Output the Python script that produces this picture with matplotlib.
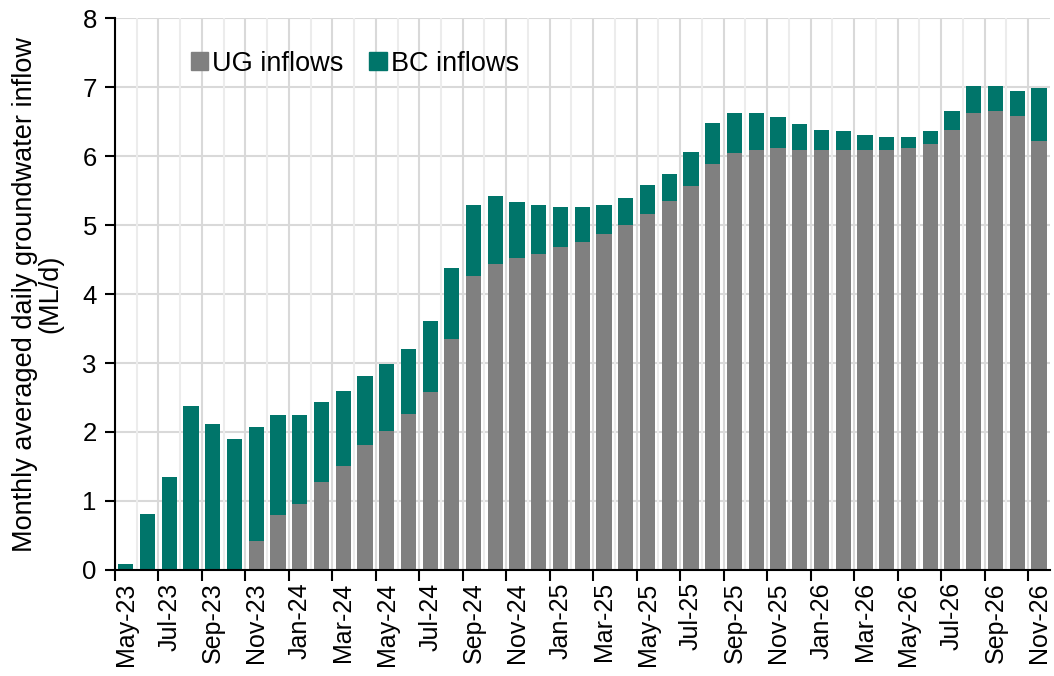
import numpy as np
import matplotlib
matplotlib.use("Agg")
import matplotlib.pyplot as plt
from matplotlib.patches import Patch

plt.rcParams["font.family"] = ["Liberation Sans", "DejaVu Sans"]

# === Data ===
months = ["May-23", "Jun-23", "Jul-23", "Aug-23", "Sep-23", "Oct-23", "Nov-23", "Dec-23",
          "Jan-24", "Feb-24", "Mar-24", "Apr-24", "May-24", "Jun-24", "Jul-24", "Aug-24",
          "Sep-24", "Oct-24", "Nov-24", "Dec-24", "Jan-25", "Feb-25", "Mar-25", "Apr-25",
          "May-25", "Jun-25", "Jul-25", "Aug-25", "Sep-25", "Oct-25", "Nov-25", "Dec-25",
          "Jan-26", "Feb-26", "Mar-26", "Apr-26", "May-26", "Jun-26", "Jul-26", "Aug-26",
          "Sep-26", "Oct-26", "Nov-26"]

ug_inflows = [0.0, 0.0, 0.0, 0.0, 0.0, 0.0, 0.42, 0.79, 0.95, 1.27, 1.51, 1.81, 2.02, 2.26,
              2.58, 3.35, 4.26, 4.44, 4.52, 4.58, 4.68, 4.76, 4.87, 5.00, 5.16, 5.35, 5.56,
              5.88, 6.04, 6.09, 6.12, 6.09, 6.09, 6.09, 6.09, 6.09, 6.12, 6.18, 6.38, 6.62,
              6.65, 6.58, 6.22]

total_inflows = [0.09, 0.81, 1.34, 2.38, 2.12, 1.90, 2.07, 2.25, 2.25, 2.43, 2.59, 2.81, 2.99,
                 3.21, 3.61, 4.38, 5.29, 5.42, 5.34, 5.29, 5.26, 5.26, 5.29, 5.39, 5.58, 5.74,
                 6.06, 6.48, 6.62, 6.62, 6.57, 6.46, 6.38, 6.36, 6.30, 6.28, 6.28, 6.36, 6.65,
                 7.02, 7.02, 6.94, 6.99]

ug = np.array(ug_inflows)
bc = np.array(total_inflows) - ug

UG_COLOR = "#808080"
BC_COLOR = "#00756A"

# === Figure ===
fig = plt.figure(figsize=(10.54, 6.76), dpi=100)
ax = fig.add_axes([0.109, 0.157, 0.887, 0.816])

x = np.arange(len(months))
ax.bar(x, ug, width=0.7, color=UG_COLOR, zorder=3)
ax.bar(x, bc, width=0.7, bottom=ug, color=BC_COLOR, zorder=3)

ax.set_xlim(-0.5, len(months) - 0.5)
ax.set_ylim(0, 8)
ax.set_yticks(range(0, 9))

# vertical grid at every category boundary, darker at labelled ones
for b in np.arange(len(months)) - 0.5:
    idx = int(b + 0.5)
    col = "#d9d9d9" if idx % 2 == 0 else "#ececec"
    ax.axvline(b, color=col, lw=1.5, zorder=1)
ax.yaxis.grid(True, color="#d9d9d9", lw=1.5, zorder=1)
ax.set_axisbelow(True)

# labels centred under every second bar, tick marks on boundaries
ax.set_xticks(x[::2])
ax.set_xticklabels(months[::2], rotation=90, fontsize=18)
ax.set_xticks(x[::2] - 0.5, minor=True)
ax.tick_params(axis="x", which="major", length=0, pad=9)
ax.tick_params(axis="x", which="minor", length=8, width=1.5, direction="out")
ax.tick_params(axis="y", labelsize=18.5, length=7, width=1.5, pad=6)

for s in ["top", "right"]:
    ax.spines[s].set_visible(False)
for s in ["left", "bottom"]:
    ax.spines[s].set_linewidth(1.5)
    ax.spines[s].set_zorder(4)

ax.set_ylabel("Monthly averaged daily groundwater inflow\n(ML/d)", fontsize=19.5,
              linespacing=0.95, labelpad=14)

handles = [Patch(color=UG_COLOR, label="UG inflows"), Patch(color=BC_COLOR, label="BC inflows")]
ax.legend(handles=handles, loc="upper left", bbox_to_anchor=(0.055, 0.985), ncol=2,
          frameon=False, fontsize=19.5, handlelength=0.65, handleheight=0.65,
          handletextpad=0.15, columnspacing=0.95, borderpad=0.4)

fig.savefig("out.png", dpi=100)
